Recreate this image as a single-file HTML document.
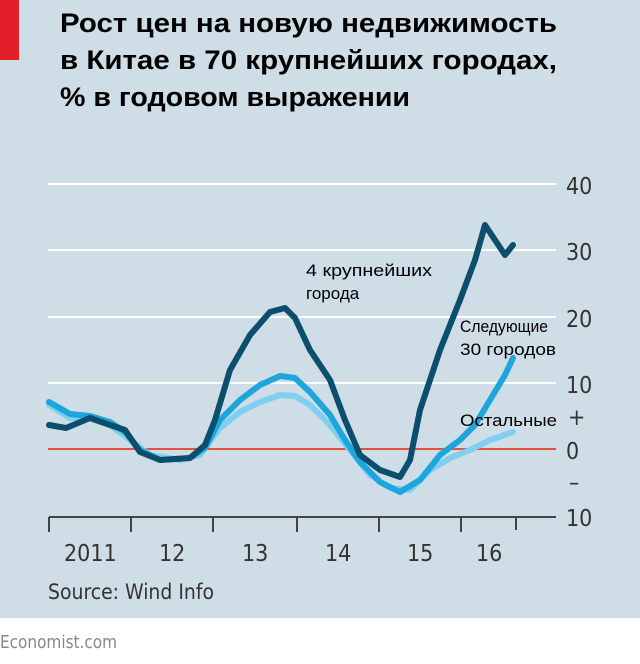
<!DOCTYPE html><html><head><meta charset="utf-8"><style>
body{margin:0;width:640px;height:659px;background:#fff;overflow:hidden;font-family:"Liberation Sans",sans-serif}
</style></head><body>
<svg width="640" height="659" xmlns="http://www.w3.org/2000/svg">
<rect x="0" y="0" width="640" height="618" fill="#cfdde6"/>
<rect x="0" y="0" width="19" height="60" fill="#e3202a"/>
<g font-family="Liberation Sans,sans-serif" font-weight="bold" font-size="27" fill="#000">
<text x="60" y="32" textLength="497" lengthAdjust="spacingAndGlyphs">Рост цен на новую недвижимость</text>
<text x="60" y="69" textLength="497" lengthAdjust="spacingAndGlyphs">в Китае в 70 крупнейших городах,</text>
<text x="60" y="106" textLength="350" lengthAdjust="spacingAndGlyphs">% в годовом выражении</text>
</g>
<g stroke="#fff" stroke-width="2">
<line x1="48" y1="184" x2="556" y2="184"/><line x1="48" y1="250" x2="556" y2="250"/>
<line x1="48" y1="317" x2="556" y2="317"/><line x1="48" y1="383" x2="556" y2="383"/>
</g>
<line x1="48" y1="449" x2="556" y2="449" stroke="#e0533f" stroke-width="2"/>
<g stroke="#444" stroke-width="2" fill="none">
<line x1="49" y1="517" x2="556" y2="517"/>
<line x1="49" y1="517" x2="49" y2="532"/><line x1="131" y1="517" x2="131" y2="532"/>
<line x1="213" y1="517" x2="213" y2="532"/><line x1="297" y1="517" x2="297" y2="532"/>
<line x1="379" y1="517" x2="379" y2="532"/><line x1="461" y1="517" x2="461" y2="532"/>
<line x1="516" y1="517" x2="516" y2="530"/>
</g>
<g fill="none" stroke-linejoin="round" stroke-linecap="round">
<polyline stroke="#7fd0f0" stroke-width="6" points="49,405 70,418 90,418 110,425 130,440 150,455 180,460 200,455 220,428 240,412 260,402 280,395 295,396 310,405 330,425 350,450 370,475 390,488 410,490 430,470 450,458 470,450 490,440 513,432"/>
<polyline stroke="#1da5dc" stroke-width="6" points="49,402 70,414 90,416 110,422 125,432 140,450 160,460 190,458 205,448 220,420 240,400 260,385 280,376 295,378 310,392 330,415 345,440 360,462 380,482 400,492 420,480 440,455 460,440 475,425 490,400 505,375 513,358"/>
<polyline stroke="#0b4f6c" stroke-width="6" points="49,425 66,428 90,418 110,425 125,430 140,452 160,460 190,458 205,445 215,420 230,370 250,335 270,312 285,308 295,318 310,350 330,380 345,420 360,455 380,470 400,477 410,460 420,410 440,350 460,300 475,260 485,225 495,240 505,255 513,245"/>
</g>
<g font-family="Liberation Sans,sans-serif" font-size="17" fill="#000">
<text x="306" y="276" textLength="126" lengthAdjust="spacingAndGlyphs">4 крупнейших</text><text x="306" y="299">города</text>
<text x="460" y="332" textLength="88" lengthAdjust="spacingAndGlyphs">Следующие</text><text x="460" y="355" textLength="96" lengthAdjust="spacingAndGlyphs">30 городов</text>
<text x="460" y="426" textLength="97" lengthAdjust="spacingAndGlyphs">Остальные</text>
</g>
<g font-family="DejaVu Sans Condensed,Liberation Sans Narrow,sans-serif" font-size="23" fill="#333">
<text x="566" y="194">40</text><text x="566" y="260">30</text><text x="566" y="327">20</text>
<text x="566" y="393">10</text><text x="566" y="459">0</text><text x="566" y="526">10</text>
<text x="568" y="425">+</text><text x="569" y="490">–</text>
<text x="64" y="561">2011</text><text x="159" y="561">12</text><text x="242" y="561">13</text>
<text x="325" y="561">14</text><text x="407" y="561">15</text><text x="476" y="561">16</text>
<text x="48" y="599" font-size="21" textLength="166" lengthAdjust="spacingAndGlyphs">Source: Wind Info</text>
</g>
<text x="0" y="648" font-family="DejaVu Sans Condensed,sans-serif" font-size="18" fill="#888" textLength="117" lengthAdjust="spacingAndGlyphs">Economist.com</text>
</svg>
</body></html>
